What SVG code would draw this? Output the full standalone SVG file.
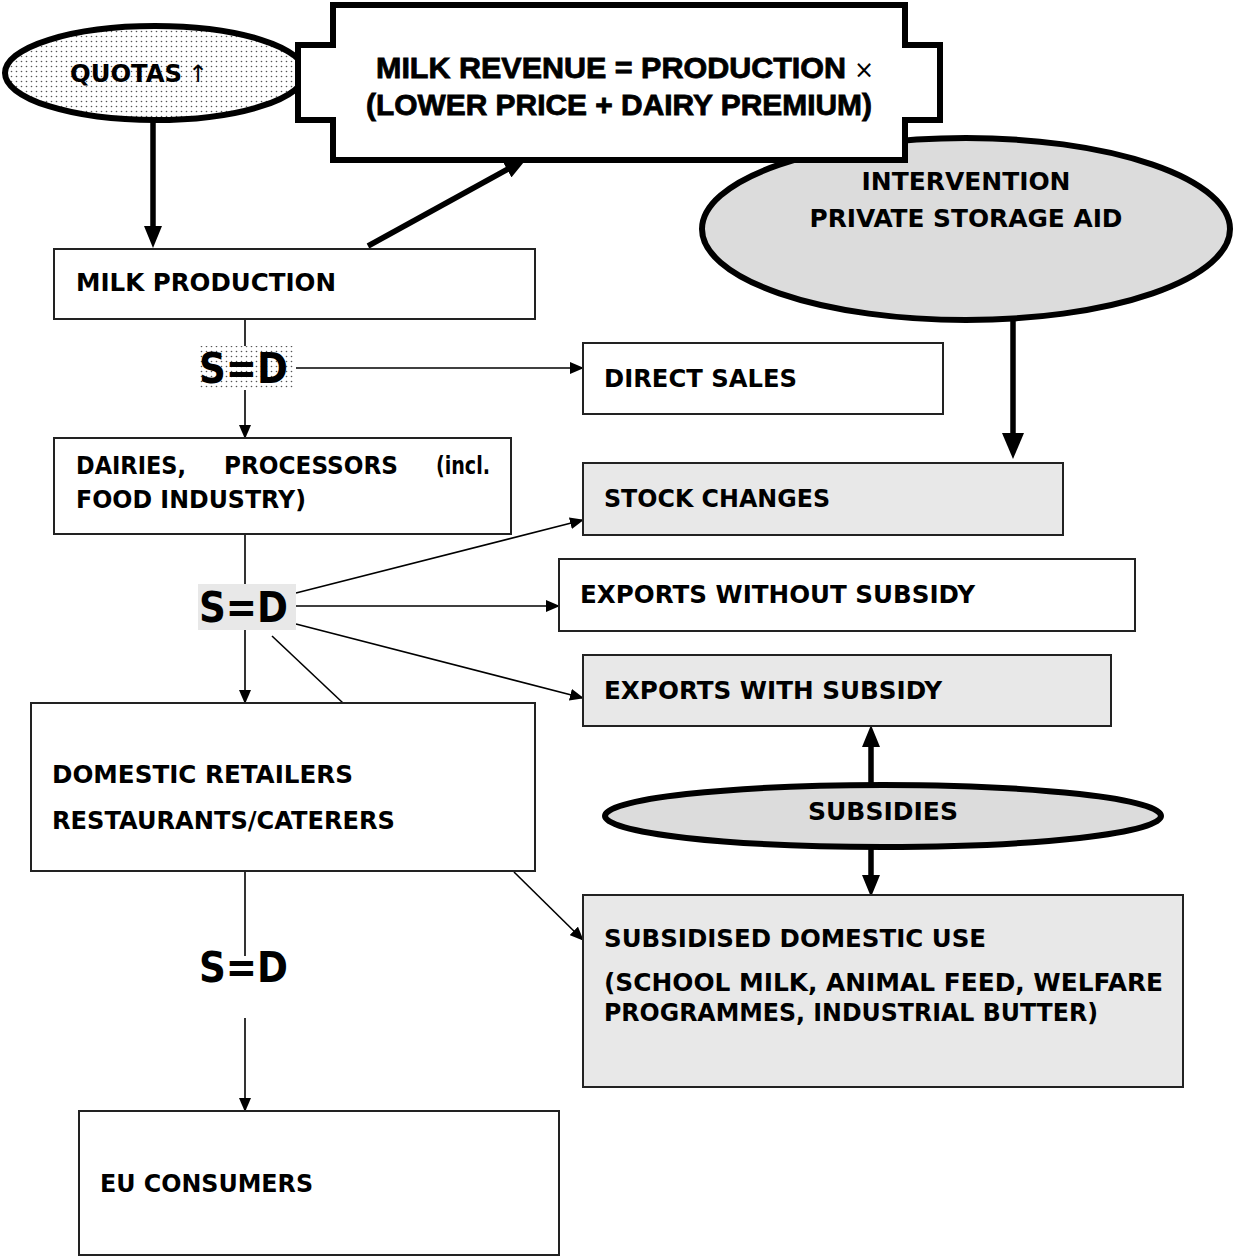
<svg xmlns="http://www.w3.org/2000/svg" width="1234" height="1259" viewBox="0 0 1234 1259">
<style>
.box{stroke:#222;stroke-width:2;fill:#fff}
.gray{fill:#e8e8e8}
.ell{stroke:#000;stroke-width:6;fill:#dcdcdc}
.t{font-family:"DejaVu Sans",Verdana,sans-serif;font-weight:bold;font-size:24px;fill:#000}
.tc{font-family:"DejaVu Sans Condensed","DejaVu Sans",sans-serif;font-weight:bold;font-size:24px;fill:#000}
.tr{font-family:"Liberation Sans",Arial,sans-serif;font-weight:bold;font-size:29px;fill:#000;stroke:#000;stroke-width:0.8}
.sd{font-family:"DejaVu Sans",Verdana,sans-serif;font-weight:bold;font-size:42px;fill:#000}
.thin{stroke:#000;stroke-width:1.6;fill:none}
.thick{stroke:#000;stroke-width:5.5;fill:none}
</style>
<defs>
<pattern id="dots" width="5" height="5" patternUnits="userSpaceOnUse">
<rect width="5" height="5" fill="#fff"/>
<circle cx="1.5" cy="1.5" r="0.8" fill="#555"/>
</pattern>
<marker id="a" viewBox="0 0 14 12" refX="13" refY="6" markerWidth="14" markerHeight="12" markerUnits="userSpaceOnUse" orient="auto">
<path d="M0,0 L14,6 L0,12 z" fill="#000"/>
</marker>
<marker id="A" viewBox="0 0 22 18" refX="1" refY="9" markerWidth="22" markerHeight="18" markerUnits="userSpaceOnUse" orient="auto">
<path d="M0,0 L22,9 L0,18 z" fill="#000"/>
</marker>
<marker id="B" viewBox="0 0 26 22" refX="1" refY="11" markerWidth="26" markerHeight="22" markerUnits="userSpaceOnUse" orient="auto">
<path d="M0,0 L26,11 L0,22 z" fill="#000"/>
</marker>
</defs>
<rect width="1234" height="1259" fill="#fff"/>

<g id="connectors">
<line class="thick" x1="153" y1="115" x2="153" y2="227" marker-end="url(#A)"/>
<line class="thick" x1="368" y1="246" x2="508" y2="169" marker-end="url(#A)"/>
<line class="thick" x1="1013" y1="318" x2="1013" y2="434" marker-end="url(#B)"/>
<line class="thin" x1="245" y1="319" x2="245" y2="346"/>
<line class="thin" x1="245" y1="390" x2="245" y2="438" marker-end="url(#a)"/>
<line class="thin" x1="296" y1="368" x2="583" y2="368" marker-end="url(#a)"/>
<line class="thin" x1="245" y1="534" x2="245" y2="584"/>
<line class="thin" x1="296" y1="593" x2="583" y2="520" marker-end="url(#a)"/>
<line class="thin" x1="296" y1="606" x2="559" y2="606" marker-end="url(#a)"/>
<line class="thin" x1="296" y1="624" x2="583" y2="698" marker-end="url(#a)"/>
<line class="thin" x1="245" y1="630" x2="245" y2="703" marker-end="url(#a)"/>
<line class="thin" x1="272" y1="636" x2="343" y2="703"/>
<line class="thin" x1="245" y1="871" x2="245" y2="956"/>
<line class="thin" x1="245" y1="1018" x2="245" y2="1111" marker-end="url(#a)"/>
<line class="thin" x1="514" y1="872" x2="583" y2="940" marker-end="url(#a)"/>
<line class="thick" x1="871" y1="786" x2="871" y2="746" marker-end="url(#A)"/>
<line class="thick" x1="871" y1="846" x2="871" y2="876" marker-end="url(#A)"/>
</g>

<g id="quotas">
<ellipse cx="155" cy="73" rx="150" ry="47" stroke="#000" stroke-width="6" fill="url(#dots)"/>
<text class="tc" x="70" y="82"><tspan textLength="112" lengthAdjust="spacingAndGlyphs">QUOTAS</tspan><tspan font-family="DejaVu Sans" font-weight="normal" dx="6">↑</tspan></text>
</g>

<g id="intervention">
<ellipse class="ell" cx="966" cy="229" rx="264" ry="91"/>
<text class="tc" x="966" y="190" text-anchor="middle" textLength="209" lengthAdjust="spacingAndGlyphs">INTERVENTION</text>
<text class="tc" x="966" y="227" text-anchor="middle" textLength="313" lengthAdjust="spacingAndGlyphs">PRIVATE STORAGE AID</text>
</g>

<g id="revenue">
<polygon points="333,5 905,5 905,45 940,45 940,120 905,120 905,160 333,160 333,120 298,120 298,45 333,45" fill="#fff" stroke="#000" stroke-width="6"/>
<text class="tr" x="376" y="78"><tspan textLength="470" lengthAdjust="spacingAndGlyphs">MILK REVENUE = PRODUCTION</tspan><tspan font-family="DejaVu Sans" font-weight="normal" stroke-width="0" font-size="24" dx="8">×</tspan></text>
<text class="tr" x="366" y="115" textLength="506" lengthAdjust="spacingAndGlyphs">(LOWER PRICE + DAIRY PREMIUM)</text>
</g>

<g id="milk-production">
<rect class="box" x="54" y="249" width="481" height="70"/>
<text class="t" x="76" y="291" textLength="260" lengthAdjust="spacingAndGlyphs">MILK PRODUCTION</text>
</g>

<g id="sd1">
<rect x="199" y="346" width="94" height="44" fill="url(#dots)"/>
<text class="sd" x="199" y="383" textLength="89" lengthAdjust="spacingAndGlyphs">S=D</text>
</g>

<g id="direct-sales">
<rect class="box" x="583" y="343" width="360" height="71"/>
<text class="t" x="604" y="387" textLength="193" lengthAdjust="spacingAndGlyphs">DIRECT SALES</text>
</g>

<g id="dairies">
<rect class="box" x="54" y="438" width="457" height="96"/>
<text class="t" y="474"><tspan x="76" textLength="110" lengthAdjust="spacingAndGlyphs">DAIRIES,</tspan><tspan x="224" textLength="174" lengthAdjust="spacingAndGlyphs">PROCESSORS</tspan><tspan x="436" textLength="54" lengthAdjust="spacingAndGlyphs">(incl.</tspan></text>
<text class="t" x="76" y="508" textLength="230" lengthAdjust="spacingAndGlyphs">FOOD INDUSTRY)</text>
</g>

<g id="stock-changes">
<rect class="box gray" x="583" y="463" width="480" height="72"/>
<text class="t" x="604" y="507" textLength="226" lengthAdjust="spacingAndGlyphs">STOCK CHANGES</text>
</g>

<g id="sd2">
<rect x="198" y="584" width="98" height="46" fill="#e8e8e8"/>
<text class="sd" x="199" y="622" textLength="89" lengthAdjust="spacingAndGlyphs">S=D</text>
</g>

<g id="exports-without">
<rect class="box" x="559" y="559" width="576" height="72"/>
<text class="t" x="580" y="603" textLength="395" lengthAdjust="spacingAndGlyphs">EXPORTS WITHOUT SUBSIDY</text>
</g>

<g id="exports-with">
<rect class="box gray" x="583" y="655" width="528" height="71"/>
<text class="tc" x="604" y="699" textLength="338" lengthAdjust="spacingAndGlyphs">EXPORTS WITH SUBSIDY</text>
</g>

<g id="retailers">
<rect class="box" x="31" y="703" width="504" height="168"/>
<text class="t" x="52" y="783" textLength="301" lengthAdjust="spacingAndGlyphs">DOMESTIC RETAILERS</text>
<text class="t" x="52" y="829" textLength="343" lengthAdjust="spacingAndGlyphs">RESTAURANTS/CATERERS</text>
</g>

<g id="subsidies">
<ellipse class="ell" cx="883" cy="816" rx="278" ry="31" stroke-width="5"/>
<text class="tc" x="883" y="820" text-anchor="middle" textLength="150" lengthAdjust="spacingAndGlyphs">SUBSIDIES</text>
</g>

<g id="subsidised-use">
<rect class="box gray" x="583" y="895" width="600" height="192"/>
<text class="tc" x="604" y="947" textLength="382" lengthAdjust="spacingAndGlyphs">SUBSIDISED DOMESTIC USE</text>
<text class="t" x="604" y="991" textLength="559" lengthAdjust="spacingAndGlyphs">(SCHOOL MILK, ANIMAL FEED, WELFARE</text>
<text class="t" x="604" y="1021" textLength="494" lengthAdjust="spacingAndGlyphs">PROGRAMMES, INDUSTRIAL BUTTER)</text>
</g>

<g id="sd3">
<text class="sd" x="199" y="982" textLength="89" lengthAdjust="spacingAndGlyphs">S=D</text>
</g>

<g id="eu-consumers">
<rect class="box" x="79" y="1111" width="480" height="144"/>
<text class="tc" x="100" y="1192" textLength="213" lengthAdjust="spacingAndGlyphs">EU CONSUMERS</text>
</g>
</svg>
